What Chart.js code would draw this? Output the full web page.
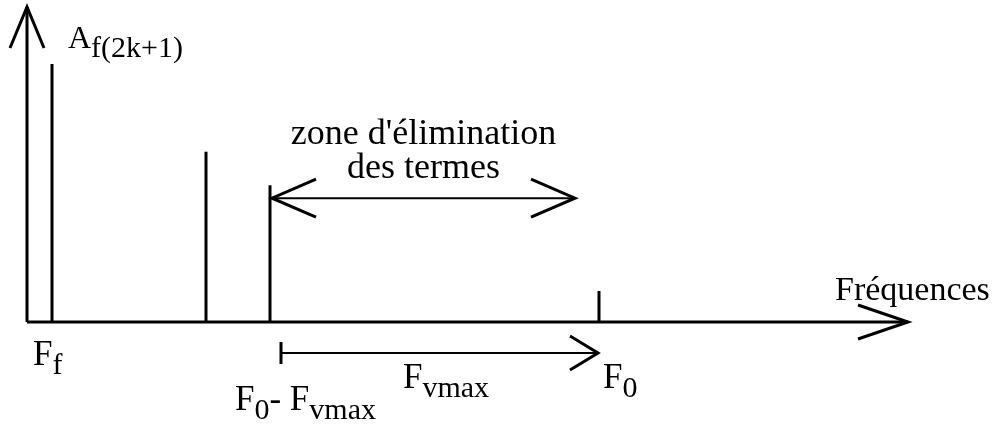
<!DOCTYPE html>
<html>
<head>
<meta charset="utf-8">
<script src="https://cdn.jsdelivr.net/npm/chart.js@4/dist/chart.umd.min.js"></script>
<style>
  html, body { margin: 0; padding: 0; background: #fff; }
  #wrap { width: 995px; height: 434px; }
</style>
</head>
<body>
<div id="wrap"><canvas id="spectre" width="995" height="434"></canvas></div>
<script>
// raies du spectre (unités arbitraires)
const raieFreqs = [2.5, 17.9, 24.3, 57.2];
const raieAmps = [100, 66, 53, 12];

// axes
const axeXMax = 88.1;
const axeYMax = 122.1;

// zone d'élimination (double flèche) et intervalle F0 - Fvmax
const zoneDebut = 24.5;
const zoneFin = 54.8;
const zoneNiveau = 48;
const fvDebut = 25.4;
const fvFin = 57.1;
const fvNiveau = -12;

const police = '"Liberation Serif", "DejaVu Serif", serif';

/**
 * trace une pointe de flèche en pixels
 */
function pointe(ctx, tx, ty, angle, long, demi) {
    const cx = Math.cos(angle), cy = Math.sin(angle);
    ctx.beginPath();
    ctx.moveTo(tx - cx * long - cy * demi, ty - cy * long + cx * demi);
    ctx.lineTo(tx, ty);
    ctx.lineTo(tx - cx * long + cy * demi, ty - cy * long - cx * demi);
    ctx.stroke();
}

/**
 * texte avec indice
 */
function texteIndice(ctx, x, y, base, indice, taille, tailleInd, decal) {
    ctx.font = taille + 'px ' + police;
    ctx.fillText(base, x, y);
    const w = ctx.measureText(base).width;
    ctx.font = tailleInd + 'px ' + police;
    ctx.fillText(indice, x + w, y + decal);
    return w + ctx.measureText(indice).width;
}

const decorations = {
    id: 'decorations',
    afterDraw(chart) {
        const ctx = chart.ctx;
        const sx = chart.scales.x, sy = chart.scales.y;
        const px = v => sx.getPixelForValue(v);
        const py = v => sy.getPixelForValue(v);

        ctx.save();
        ctx.strokeStyle = '#000';
        ctx.fillStyle = '#000';
        ctx.lineCap = 'butt';
        ctx.lineJoin = 'miter';

        // pointes des axes
        ctx.lineWidth = 3;
        pointe(ctx, px(axeXMax), py(0), 0, 50, 17);
        pointe(ctx, px(0), py(axeYMax), -Math.PI / 2, 41, 17);

        // double flèche
        ctx.lineWidth = 2;
        ctx.beginPath();
        ctx.moveTo(px(zoneDebut), py(zoneNiveau));
        ctx.lineTo(px(zoneFin), py(zoneNiveau));
        ctx.stroke();
        ctx.lineWidth = 3;
        pointe(ctx, px(zoneDebut), py(zoneNiveau), Math.PI, 44, 19);
        pointe(ctx, px(zoneFin), py(zoneNiveau), 0, 44, 19);

        // flèche F0 - Fvmax -> F0
        ctx.lineWidth = 2;
        ctx.beginPath();
        ctx.moveTo(px(fvDebut), py(fvNiveau));
        ctx.lineTo(px(fvFin), py(fvNiveau));
        ctx.stroke();
        ctx.lineWidth = 3;
        ctx.beginPath();
        ctx.moveTo(px(fvDebut), py(fvNiveau) - 11);
        ctx.lineTo(px(fvDebut), py(fvNiveau) + 11);
        ctx.stroke();
        pointe(ctx, px(fvFin), py(fvNiveau), 0, 28, 17);

        // textes
        ctx.textBaseline = 'alphabetic';
        ctx.textAlign = 'left';
        texteIndice(ctx, 68, 48, 'A', 'f(2k+1)', 32, 30, 9);

        ctx.font = '36px ' + police;
        ctx.textAlign = 'center';
        const cz = (px(zoneDebut) + px(zoneFin)) / 2 + 0;
        ctx.fillText("zone d'élimination", cz, 144);
        ctx.fillText('des termes', cz, 178);

        ctx.textAlign = 'left';
        ctx.font = '34px ' + police;
        ctx.fillText('Fréquences', 835, 300);

        texteIndice(ctx, 33, 365, 'F', 'f', 35, 30, 9);
        texteIndice(ctx, 603, 388, 'F', '0', 35, 30, 9);
        texteIndice(ctx, 403, 388, 'F', 'vmax', 35, 30, 9);
        let w = texteIndice(ctx, 235, 410, 'F', '0', 35, 30, 9);
        texteIndice(ctx, 235 + w, 410, '- F', 'vmax', 35, 30, 9);

        ctx.restore();
    }
};

const datasets = raieFreqs.map((f, i) => ({
    data: [{ x: f, y: 0 }, { x: f, y: raieAmps[i] }],
    showLine: true,
    borderColor: '#000',
    borderWidth: 3,
    pointRadius: 0
}));
datasets.push({
    data: [{ x: 0, y: 0 }, { x: axeXMax, y: 0 }],
    showLine: true, borderColor: '#000', borderWidth: 3, pointRadius: 0
});
datasets.push({
    data: [{ x: 0, y: 0 }, { x: 0, y: axeYMax }],
    showLine: true, borderColor: '#000', borderWidth: 3, pointRadius: 0
});

new Chart(document.getElementById('spectre'), {
    type: 'scatter',
    data: { datasets: datasets },
    options: {
        responsive: false,
        animation: false,
        layout: { padding: 0 },
        plugins: { legend: { display: false }, tooltip: { enabled: false } },
        scales: {
            x: { type: 'linear', min: -2.7, max: 96.8, display: false },
            y: { type: 'linear', min: -43.41, max: 124.81, display: false }
        }
    },
    plugins: [decorations]
});
</script>
</body>
</html>
